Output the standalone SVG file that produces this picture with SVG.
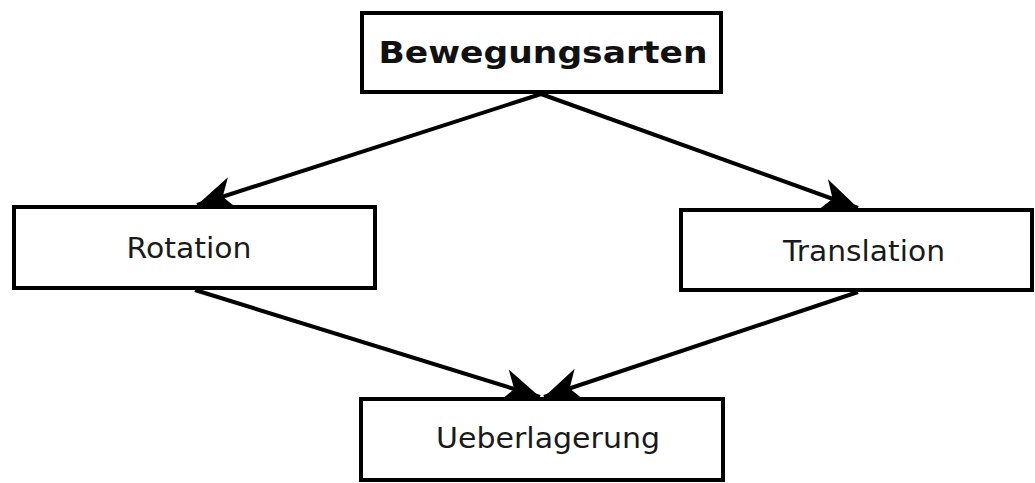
<svg xmlns="http://www.w3.org/2000/svg" width="1035" height="483" viewBox="0 0 1035 483">
<style>
.box{fill:#fff;stroke:#000;stroke-width:4}
.lbl{font-family:"DejaVu Sans",sans-serif;font-size:29px;fill:#1a1a1a;text-anchor:middle}
.title{font-family:"DejaVu Sans",sans-serif;font-size:31px;font-weight:bold;fill:#111;text-anchor:middle}
.edge{stroke:#000;stroke-width:4;fill:none}
</style>
<defs>
<marker id="ah" markerUnits="userSpaceOnUse" viewBox="-42 -21 44 42" refX="0" refY="0" markerWidth="44" markerHeight="42" orient="auto" overflow="visible">
<path d="M0,0 L-38,-17 L-27,0 L-38,17 Z" fill="#000"/>
</marker>
</defs>
<rect width="1035" height="483" fill="#fff"/>
<g id="connectors">
<line class="edge" x1="541" y1="94" x2="197" y2="205" marker-end="url(#ah)"/>
<line class="edge" x1="541" y1="94" x2="858" y2="208" marker-end="url(#ah)"/>
<line class="edge" x1="195" y1="290" x2="540" y2="397" marker-end="url(#ah)"/>
<line class="edge" x1="858" y1="292" x2="544" y2="397" marker-end="url(#ah)"/>
</g>
<g id="node-bewegungsarten">
<rect class="box" x="362" y="13" width="359" height="79"/>
<text class="title" x="543" y="63" textLength="329" lengthAdjust="spacingAndGlyphs">Bewegungsarten</text>
</g>
<g id="node-rotation">
<rect class="box" x="14" y="207" width="361" height="81"/>
<text class="lbl" x="189" y="258" textLength="125" lengthAdjust="spacingAndGlyphs">Rotation</text>
</g>
<g id="node-translation">
<rect class="box" x="681" y="210" width="351" height="80"/>
<text class="lbl" x="864" y="261" textLength="162" lengthAdjust="spacingAndGlyphs">Translation</text>
</g>
<g id="node-ueberlagerung">
<rect class="box" x="361" y="399" width="362" height="81"/>
<text class="lbl" x="548" y="448" textLength="224" lengthAdjust="spacingAndGlyphs">Ueberlagerung</text>
</g>
</svg>
